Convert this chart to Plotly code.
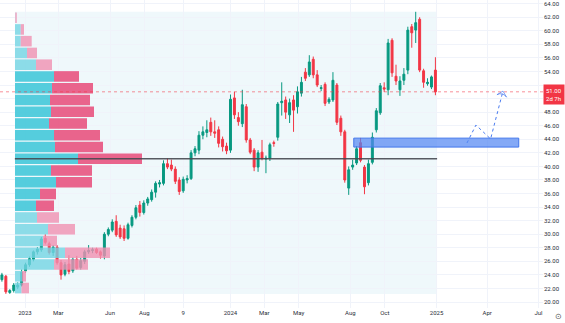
import pandas as pd
import plotly.graph_objects as go

# ---------------- data ----------------
first_week = "2022-11-14"
opens  = [23.8,23.3,23.8,21.4,21.7,22.2,22.5,24.6,25.5,26.3,27.4,27.7,29.4,28.6,27.3,28.1,25.8,24.1,25.6,24.6,
          26.3,25.1,26.0,27.4,27.6,27.8,27.4,26.8,30.0,30.6,31.9,30.9,30.8,29.4,31.3,32.5,34.3,33.2,34.6,35.1,
          36.2,37.4,37.5,40.4,40.2,39.6,38.0,36.4,38.0,38.2,42.0,42.4,44.6,45.0,46.5,45.1,45.4,44.0,43.0,42.4,
          50.1,47.2,46.3,48.8,43.9,42.4,39.9,42.1,41.1,41.2,43.5,44.3,49.4,49.8,47.6,49.8,48.8,50.8,53.9,53.5,
          55.8,53.5,51.5,52.1,49.5,49.8,52.0,47.1,45.1,36.8,39.9,40.5,43.5,39.9,37.6,40.6,45.4,47.9,51.6,51.3,
          58.6,53.3,51.3,52.7,54.2,60.6,60.1,61.7,54.1,52.2,51.7,54.2]
highs  = [24.2,24.3,24.0,21.9,22.8,22.9,24.8,25.8,26.7,27.6,28.1,29.6,30.0,28.9,28.4,28.4,26.2,25.9,26.9,26.6,
          26.8,26.5,27.7,28.4,28.0,28.0,27.6,30.3,31.0,32.2,32.8,31.4,31.3,31.7,32.8,34.3,34.9,35.0,35.5,36.6,
          37.8,38.0,40.9,41.2,41.0,40.0,38.4,38.5,38.7,42.4,43.0,45.2,45.9,46.8,47.2,46.8,45.9,44.4,43.5,50.6,
          51.0,48.0,51.3,49.2,44.2,42.7,42.4,43.9,41.6,43.5,43.8,49.5,52.4,50.3,50.0,50.5,51.8,53.2,54.5,56.4,
          56.2,54.2,52.0,52.4,50.2,53.9,52.3,47.5,45.4,40.0,41.0,43.0,44.2,40.2,41.0,45.0,48.6,52.3,52.4,58.8,
          58.9,55.0,53.3,54.5,60.6,61.0,62.8,62.0,54.4,53.0,53.4,56.1]
lows   = [23.1,23.0,21.2,21.2,21.4,21.9,22.3,24.3,25.2,26.0,27.0,27.4,28.5,27.0,26.8,25.5,23.3,23.8,24.1,24.3,
          24.8,24.8,25.6,27.1,27.2,27.1,26.4,26.3,29.7,30.3,29.6,29.3,29.0,29.2,31.0,32.2,32.6,32.9,34.2,34.8,
          35.4,36.9,37.2,39.6,39.3,37.4,35.8,36.1,37.5,38.0,41.5,41.8,44.0,44.3,44.5,44.2,42.8,42.2,41.8,42.0,
          47.0,46.0,45.8,43.5,41.8,39.3,39.2,40.9,39.0,40.8,42.9,43.8,47.5,47.0,46.4,45.1,47.8,50.3,52.6,53.2,
          53.0,51.7,51.1,48.9,49.2,49.5,46.1,44.5,37.6,35.8,39.5,40.2,40.6,35.9,37.2,40.3,45.0,47.6,51.0,50.5,
          53.2,52.0,50.4,52.0,53.6,57.5,58.2,53.9,51.6,51.9,51.4,50.5]
closes = [23.4,24.0,21.5,21.7,22.5,22.5,24.4,25.5,26.4,27.4,27.8,29.3,28.8,27.3,28.1,25.8,24.0,25.5,24.5,26.3,
          25.0,26.1,27.4,27.6,27.7,27.3,26.9,30.0,30.7,31.8,29.9,29.6,29.4,31.4,32.5,33.9,33.2,34.6,35.2,36.2,
          37.5,37.6,40.4,39.9,39.6,37.8,36.3,38.1,38.2,42.0,42.6,44.6,45.1,45.4,45.1,44.9,43.4,42.9,42.3,49.9,
          47.6,46.6,49.1,43.9,42.1,39.9,42.0,41.2,41.2,43.2,43.4,49.2,49.6,48.0,49.4,48.3,51.0,52.4,53.0,55.4,
          53.5,52.0,51.6,49.3,49.9,52.7,46.5,45.1,38.0,39.5,40.2,42.6,40.9,37.0,40.4,44.3,48.2,51.9,51.4,58.2,
          53.8,52.6,52.6,53.6,60.1,59.7,61.2,54.2,52.4,52.4,53.2,51.0]

# volume profile (visible range), rows from top to bottom
vp_top, vp_bottom = 62.8, 21.2
vp_up   = [0.3,5.7,5.7,12,21,39,37,35,36,34,39,40,63,36,41,25,21,22,33,28,50,39,7,6.5]
vp_down = [1.5,3.3,11,10,16,25,41,40,43,38,46,48,64,41,36,16,18,22,27,14,45,34,4,7.5]
value_area_rows = (5, 16)
vp_start, vp_end = "2022-12-14", "2025-01-02"

# zone and projected path
zone_dates = ["2024-08-07", "2025-05-27"]
zone_prices = [42.85, 44.17]
path_dates = ["2025-02-24", "2025-03-12", "2025-04-07", "2025-04-29"]
path_prices = [43.45, 46.1, 44.05, 51.1]

tick_dates = ["2023-01-01","2023-03-01","2023-06-01","2023-08-01","2023-10-09","2024-01-01","2024-03-01",
              "2024-05-01","2024-08-01","2024-10-01","2025-01-01","2025-04-01","2025-07-01"]
tick_text = ["2023","Mar","Jun","Aug","9","2024","Mar","May","Aug","Oct","2025","Apr","Jul"]
price_ticks = list(range(20, 65, 2))
countdown = "2d 7h"

# ---------------- figure ----------------
dates = pd.date_range(first_week, periods=len(opens), freq="7D")
GREEN, RED = "#089981", "#F23645"

fig = go.Figure()
fig.add_trace(go.Candlestick(
    x=dates, open=opens, high=highs, low=lows, close=closes,
    increasing=dict(line=dict(color=GREEN, width=1), fillcolor=GREEN),
    decreasing=dict(line=dict(color=RED, width=1), fillcolor=RED),
    whiskerwidth=0, hoverinfo="skip"))

n_rows = len(vp_up)
row_h = (vp_top - vp_bottom) / n_rows
centers = [vp_top - (k + 0.5) * row_h for k in range(n_rows)]
in_va = [value_area_rows[0] <= k <= value_area_rows[1] for k in range(n_rows)]
up_cols = ["rgba(46,194,214,0.8)" if v else "rgba(115,213,227,0.8)" for v in in_va]
dn_cols = ["rgba(231,63,112,0.8)" if v else "rgba(240,144,177,0.8)" for v in in_va]

fig.add_trace(go.Bar(orientation="h", y=centers, x=vp_up, base=[0] * n_rows,
                     width=row_h * 0.9, marker=dict(color=up_cols, line=dict(width=0)),
                     xaxis="x2", yaxis="y", hoverinfo="skip"))
fig.add_trace(go.Bar(orientation="h", y=centers, x=vp_down, base=vp_up,
                     width=row_h * 0.9, marker=dict(color=dn_cols, line=dict(width=0)),
                     xaxis="x2", yaxis="y", hoverinfo="skip"))

fig.add_trace(go.Scatter(
    x=path_dates, y=path_prices, mode="lines+markers",
    line=dict(color="#4a7cf0", width=1, dash="dot"),
    marker=dict(size=[0, 0, 0, 7], symbol="arrow-wide-open", angleref="previous",
                color="#4a7cf0", line=dict(width=1, color="#4a7cf0")),
    hoverinfo="skip"))

totals = [u + d for u, d in zip(vp_up, vp_down)]
poc = centers[totals.index(max(totals))]

shapes = [
    dict(type="rect", xref="x", yref="y", x0=vp_start, x1=vp_end, y0=vp_bottom, y1=vp_top,
         fillcolor="#EFF8FB", line=dict(width=0), layer="below"),
    dict(type="line", xref="x", yref="y", x0=vp_start, x1=vp_end, y0=poc, y1=poc,
         line=dict(color="rgba(70,72,80,0.9)", width=1.5), layer="above"),
    dict(type="line", xref="paper", yref="y", x0=0, x1=1, y0=closes[-1], y1=closes[-1],
         line=dict(color="rgba(242,54,69,0.55)", width=1, dash="dot"), layer="above"),
    dict(type="rect", xref="x", yref="y", x0=zone_dates[0], x1=zone_dates[1],
         y0=zone_prices[0], y1=zone_prices[1],
         fillcolor="rgba(84,136,242,0.72)", line=dict(color="rgba(66,118,235,1)", width=1), layer="above"),
]

x_left = pd.Timestamp("2023-01-01") - pd.Timedelta(days=44.4)
x_right = pd.Timestamp("2023-01-01") + pd.Timedelta(days=920.1)

# the 50.00 label sits under the last-price badge in the reference, so it is not printed
price_labels = ["" if abs(v - closes[-1]) < 1.5 else f"{v:.2f}" for v in price_ticks]

fig.update_layout(
    width=565, height=323, margin=dict(l=0, r=22, t=0, b=15),
    paper_bgcolor="white", plot_bgcolor="white", showlegend=False,
    barmode="overlay", shapes=shapes,
    font=dict(family="Roboto, Arial, sans-serif", size=6, color="#2a2e39"),
    xaxis=dict(type="date", range=[x_left, x_right], rangeslider=dict(visible=False),
               tickvals=tick_dates, ticktext=tick_text, showgrid=True, gridcolor="#F0F3FA",
               zeroline=False, showline=False, ticks="", tickfont=dict(size=6),
               ticklabeloverflow="allow"),
    xaxis2=dict(overlaying="x", range=[-15, 528], visible=False),
    yaxis=dict(side="right", range=[19.12, 64.54], tickvals=price_ticks,
               ticktext=price_labels, showgrid=True, gridcolor="#F0F3FA",
               zeroline=False, showline=False, ticks="", tickfont=dict(size=6),
               ticklabeloverflow="allow"),
    annotations=[
        dict(xref="paper", yref="y", x=1, y=closes[-1], xanchor="left", yanchor="middle",
             yshift=-3, text=f"{closes[-1]:.2f}<br>{countdown}", showarrow=False,
             bgcolor=RED, font=dict(color="white", size=6), borderpad=2, align="center"),
        dict(xref="paper", yref="paper", x=1, y=0, xanchor="left", yanchor="top", xshift=10, yshift=-2,
             text="⊙", showarrow=False, font=dict(size=8, color="#555")),
    ],
)

fig.write_html("out.html")
